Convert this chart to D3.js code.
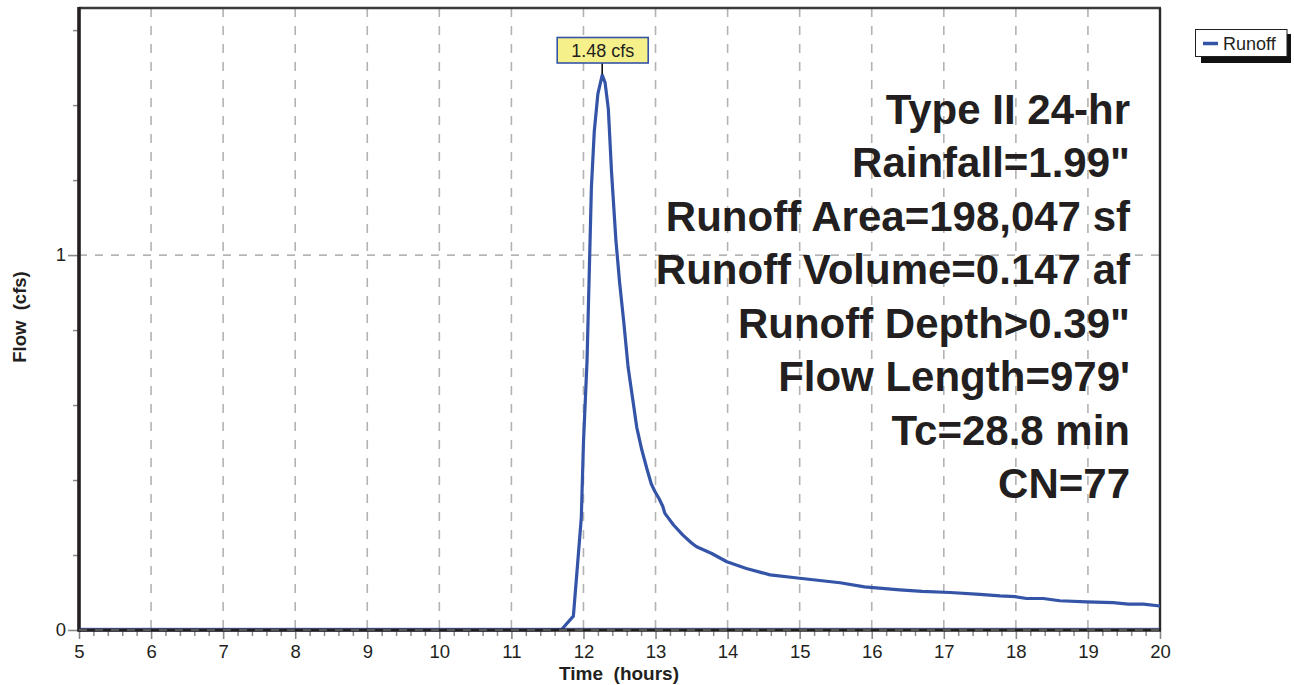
<!DOCTYPE html>
<html>
<head>
<meta charset="utf-8">
<script src="https://cdn.jsdelivr.net/npm/d3@7"></script>
<style>
  body { margin: 0; background: #fff; }
  svg { display: block; font-family: "Liberation Sans", Arial, Helvetica, sans-serif; }
  svg text { font-family: "Liberation Sans", Arial, Helvetica, sans-serif; white-space: pre; }
</style>
</head>
<body>
<svg id="chart" width="1294" height="685"></svg>
<script>
// ---------- DATA ----------
const times = [5.0, 11.0, 11.5, 11.70, 11.86, 11.92, 11.97, 12.00, 12.05, 12.08, 12.11, 12.15, 12.20, 12.26,
  12.30, 12.345, 12.39, 12.45, 12.50, 12.56, 12.62, 12.68, 12.74, 12.81, 12.88, 12.94, 12.99, 13.05, 13.10,
  13.13, 13.25, 13.38, 13.50, 13.57, 13.78, 13.99, 14.26, 14.59, 15.0, 15.56, 15.9, 16.39, 16.7, 17.09,
  17.5, 17.78, 17.99, 18.15, 18.38, 18.61, 18.98, 19.35, 19.56, 19.77, 20.0];
const flows = [0, 0, 0, 0.002, 0.037, 0.18, 0.30, 0.50, 0.72, 0.95, 1.18, 1.33, 1.43, 1.48,
  1.46, 1.39, 1.22, 1.04, 0.93, 0.82, 0.70, 0.62, 0.54, 0.48, 0.43, 0.39, 0.37, 0.35, 0.33,
  0.311, 0.28, 0.253, 0.232, 0.222, 0.204, 0.182, 0.164, 0.147, 0.138, 0.126, 0.115, 0.107, 0.103, 0.100,
  0.095, 0.091, 0.089, 0.084, 0.084, 0.078, 0.075, 0.073, 0.069, 0.069, 0.064];
const xMajorTicks = [5, 6, 7, 8, 9, 10, 11, 12, 13, 14, 15, 16, 17, 18, 19, 20];
const yMajorTicks = [0, 1];
const yMinorTicks = [0.2, 0.4, 0.6, 0.8, 1.2, 1.4, 1.6];
const peakTime = 12.26, peakFlow = 1.48, peakLabel = "1.48 cfs";
const seriesName = "Runoff";
const infoLines = ["Type II 24-hr", "Rainfall=1.99\"", "Runoff Area=198,047 sf", "Runoff Volume=0.147 af",
  "Runoff Depth>0.39\"", "Flow Length=979'", "Tc=28.8 min", "CN=77"];
const xTitle = "Time  (hours)", yTitle = "Flow  (cfs)";

// ---------- LAYOUT ----------
const L = 79, R = 1160, T = 8, B = 630;
const FONT = "'Liberation Sans', Arial, Helvetica, sans-serif";
const svg = d3.select("#chart");
const x = d3.scaleLinear().domain([5, 20]).range([L, R]);
const y = d3.scaleLinear().domain([0, 1.659]).range([B, T]);
const ink = "#231f20", blue = "#3454a8", grid = "#b3b3b3";

// vertical grid
svg.append("g").selectAll("line").data(xMajorTicks.filter(d => d > 5 && d < 20)).join("line")
  .attr("x1", d => x(d)).attr("x2", d => x(d)).attr("y1", T).attr("y2", B)
  .attr("stroke", grid).attr("stroke-width", 1.6).attr("stroke-dasharray", "9,9");
// horizontal grid at 1
svg.append("line").attr("x1", L).attr("x2", R).attr("y1", y(1)).attr("y2", y(1))
  .attr("stroke", "#9a9a9a").attr("stroke-width", 1.2).attr("stroke-dasharray", "8,8");

// minor x ticks
const xMinor = d3.range(5, 20.001, 0.2).filter(v => Math.abs(v - Math.round(v)) > 0.01);
const gxm = svg.append("g").attr("transform", `translate(0,${B})`)
  .call(d3.axisBottom(x).tickValues(xMinor).tickSize(6).tickFormat(""));
gxm.select(".domain").remove();
gxm.selectAll(".tick line").attr("stroke", "#8a8a8a").attr("stroke-width", 1.5);

// major x axis
const gx = svg.append("g").attr("transform", `translate(0,${B})`)
  .call(d3.axisBottom(x).tickValues(xMajorTicks).tickSize(9).tickPadding(6).tickFormat(d3.format("d")));
gx.attr("font-family", FONT).attr("font-size", 18.5);
gx.select(".domain").remove();
gx.selectAll(".tick line").attr("stroke", "#8a8a8a").attr("stroke-width", 1.6);
gx.selectAll(".tick text").attr("fill", ink);

// y minor
const gym = svg.append("g").attr("transform", `translate(${L},0)`)
  .call(d3.axisLeft(y).tickValues(yMinorTicks).tickSize(6).tickFormat(""));
gym.select(".domain").remove();
gym.selectAll(".tick line").attr("stroke", "#8a8a8a").attr("stroke-width", 1.5);
// y major
const gy = svg.append("g").attr("transform", `translate(${L},0)`)
  .call(d3.axisLeft(y).tickValues(yMajorTicks).tickSize(11).tickPadding(2).tickFormat(d3.format("d")));
gy.attr("font-family", FONT).attr("font-size", 18.5);
gy.select(".domain").remove();
gy.selectAll(".tick line").attr("stroke", "#8a8a8a").attr("stroke-width", 1.6);
gy.selectAll(".tick text").attr("fill", ink);

// frame: top and right thin
svg.append("line").attr("x1", L).attr("x2", R + 1).attr("y1", T).attr("y2", T).attr("stroke", "#3a3a3a").attr("stroke-width", 2.4);
svg.append("line").attr("x1", R).attr("x2", R).attr("y1", T).attr("y2", B).attr("stroke", "#2a2a2a").attr("stroke-width", 2.4);

// info text
const info = svg.append("g").attr("font-weight", "bold").attr("fill", ink).style("font-size", "42px");
info.selectAll("text").data(infoLines).join("text")
  .attr("x", 1130).attr("y", (d, i) => 123.5 + i * 53.5)
  .attr("text-anchor", "end").text(d => d);

// curve
const pts = times.map((t, i) => [t, flows[i]]);
svg.append("path").datum(pts)
  .attr("fill", "none").attr("stroke", blue).attr("stroke-width", 3.2).attr("stroke-linejoin", "round")
  .attr("d", d3.line().x(d => x(d[0])).y(d => y(d[1])));

// thick axis lines
svg.append("line").attr("x1", L).attr("x2", R + 1).attr("y1", B).attr("y2", B).attr("stroke", ink).attr("stroke-width", 3.6);
svg.append("line").attr("x1", L).attr("x2", L).attr("y1", T - 1).attr("y2", B + 1.8).attr("stroke", ink).attr("stroke-width", 3.6);
svg.append("line").attr("x1", L).attr("x2", R).attr("y1", B).attr("y2", B)
  .attr("stroke", "#8a8a8a").attr("stroke-width", 1).attr("stroke-dasharray", "8,8");
svg.append("line").attr("x1", L).attr("x2", R).attr("y1", B - 1.8).attr("y2", B - 1.8)
  .attr("stroke", blue).attr("stroke-width", 0.8).attr("opacity", 0.7);

// peak label
const px = x(peakTime), py = y(peakFlow);
svg.append("line").attr("x1", px).attr("x2", px).attr("y1", 63).attr("y2", py - 1).attr("stroke", "#111").attr("stroke-width", 1.6);
svg.append("rect").attr("x", px - 45).attr("y", 37.5).attr("width", 91).attr("height", 25.5)
  .attr("fill", "#f6f08a").attr("stroke", blue).attr("stroke-width", 1.6);
svg.append("text").attr("x", px + 0.5).attr("y", 56.5).attr("text-anchor", "middle")
  .attr("fill", ink).style("font-size", "18px").text(peakLabel);

// axis titles
svg.append("text").attr("x", 619).attr("y", 680).attr("text-anchor", "middle")
  .attr("font-weight", "bold").attr("fill", ink).style("font-size", "19px").text(xTitle);
svg.append("text").attr("transform", "translate(26,317) rotate(-90)").attr("text-anchor", "middle")
  .attr("font-weight", "bold").attr("fill", ink).style("font-size", "18.5px").text(yTitle);

// legend
const lg = svg.append("g");
lg.append("rect").attr("x", 1201).attr("y", 34).attr("width", 90).attr("height", 29).attr("fill", "#111");
lg.append("rect").attr("x", 1195.5).attr("y", 29.5).attr("width", 91.5).attr("height", 27).attr("fill", "#fff")
  .attr("stroke", ink).attr("stroke-width", 1);
lg.append("line").attr("x1", 1203).attr("x2", 1218).attr("y1", 43.5).attr("y2", 43.5).attr("stroke", blue).attr("stroke-width", 3.5);
lg.append("text").attr("x", 1223).attr("y", 50).attr("fill", ink).style("font-size", "18px").text(seriesName);
</script>
</body>
</html>
